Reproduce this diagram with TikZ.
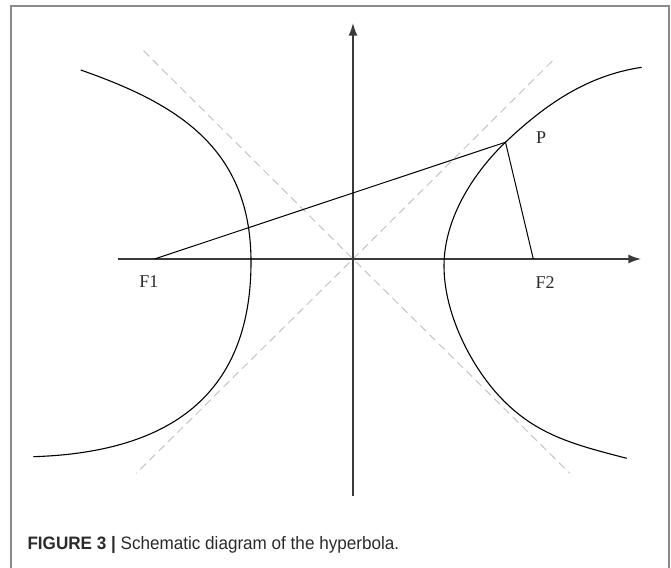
\documentclass[tikz,border=0pt]{standalone}
\usepackage{fontspec}
\usepackage{graphicx}
\setmainfont{Liberation Serif}
\newfontfamily\capfont{Liberation Sans}
\usetikzlibrary{arrows.meta}
\definecolor{axisgray}{HTML}{3A3A3A}
\definecolor{framegray}{HTML}{8A8A8A}
\definecolor{asymgray}{HTML}{C4C4C4}
\definecolor{captext}{HTML}{2A2A2A}
\tikzset{
  axisline/.style={draw=axisgray, line width=1.4pt, -{Latex[length=12.7pt,width=9pt]}},
  curveline/.style={draw=black, line width=1.1pt},
  segline/.style={draw=black, line width=1pt},
  asymline/.style={draw=asymgray, line width=1pt, dash pattern=on 8pt off 5pt},
  framebox/.style={draw=framegray, line width=1.2pt},
  lbl/.style={inner sep=0pt, anchor=base, text=captext, font=\fontsize{18}{20}\selectfont},
}
\begin{document}
\begin{tikzpicture}[x=1pt, y=-1pt]
\useasboundingbox (0,0) rectangle (671,567);
% frame
\coordinate (fa) at (11,570);
\coordinate (fb) at (11,6);
\coordinate (fc) at (669,6);
\coordinate (fd) at (669,570);
\draw[framebox] (fa) -- (fb) -- (fc) -- (fd);
% key points
\coordinate (O) at (353,259);
\coordinate (F1) at (154.5,259);
\coordinate (F2) at (533.3,259);
\coordinate (P) at (505.5,142.2);
\coordinate (xl) at (118,259);
\coordinate (xr) at (641,259);
\coordinate (yb) at (353,496);
\coordinate (yt) at (353,23);
\coordinate (a1s) at (143.5,50.7);
\coordinate (a1e) at (569.8,473.3);
\coordinate (a2s) at (552.3,61);
\coordinate (a2e) at (136.2,473.3);
% hyperbola end points and vertices
\coordinate (Lt) at (80.7,70);
\coordinate (Lv) at (251,262);
\coordinate (Lb) at (33.3,456.7);
\coordinate (Rt) at (641.7,67.3);
\coordinate (Rv) at (444,266);
\coordinate (Rq) at (496.7,393.3);
\coordinate (Rb) at (626.7,458.3);
% asymptotes
\draw[asymline] (a1s) -- (O) -- (a1e);
\draw[asymline] (a2s) -- (O) -- (a2e);
% axes
\draw[axisline] (xl) -- (xr);
\draw[axisline] (yb) -- (yt);
% left branch
\draw[curveline] (Lt) .. controls (175.7,103.25) and (251,147) .. (Lv)
  .. controls (251,410) and (150,453) .. (Lb);
% right branch
\draw[curveline] (Rt) .. controls (587.3,75.4) and (545.4,104.3) .. (P)
  .. controls (476.5,169.8) and (444,216) .. (Rv)
  .. controls (444,314) and (471,364.5) .. (Rq)
  .. controls (533.3,434.3) and (571.7,444) .. (Rb);
% focal segments
\draw[segline] (F1) -- (P) -- (F2);
% labels
\node[lbl] (lF1) at (148.8,287.3) {F1};
\node[lbl] (lF2) at (545,288.3) {F2};
\node[lbl] (lP) at (541,143.3) {P};
% caption
\node[inner sep=0pt, anchor=base west, text=captext, font=\capfont\fontsize{18}{20}\selectfont] (cap) at (27.3,549)
  {\scalebox{0.95}[1]{\textbf{FIGURE 3 |} Schematic diagram of the hyperbola.}};
\end{tikzpicture}
\end{document}
